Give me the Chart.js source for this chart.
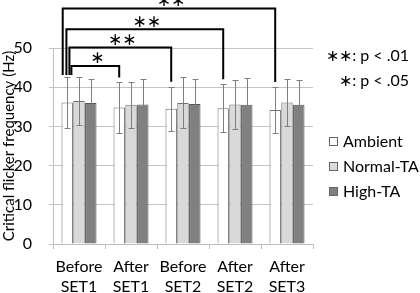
<!DOCTYPE html>
<html>
<head>
<meta charset="utf-8">
<script src="https://cdn.jsdelivr.net/npm/chart.js@4.4.0/dist/chart.umd.min.js"></script>
<style>
  html, body { margin: 0; padding: 0; background: #fff; }
  #wrap { width: 420px; height: 293px; }
</style>
</head>
<body>
<div id="wrap"><canvas id="cff" width="420" height="293"></canvas></div>
<script>
// Daten
var categories = [['Before', 'SET1'], ['After', 'SET1'], ['Before', 'SET2'], ['After', 'SET2'], ['After', 'SET3']];
var seriesNames = ['Ambient', 'Normal-TA', 'High-TA'];
var ambient = [36.1, 34.8, 34.5, 34.6, 34.2];
var normalTA = [36.5, 35.5, 36.0, 35.6, 36.1];
var highTA = [36.0, 35.6, 35.7, 35.5, 35.5];
var ambientSD = [6.5, 6.4, 5.6, 6.1, 5.8];
var normalSD = [6.2, 5.9, 6.5, 6.3, 5.9];
var highSD = [6.2, 6.4, 6.3, 6.9, 6.3];
var yTicks = [0, 10, 20, 30, 40, 50];
// Signifikanz: Vergleich Before SET1 (Ambient) mit Gruppe i
var sigTargets = [1, 2, 3, 4];
var sigMarks = ['∗', '∗∗', '∗∗', '∗∗'];
var sigNotes = ['∗∗: p < .01', '∗: p < .05'];

var FONT = 'Lato';
var sdList = [ambientSD, normalSD, highSD];

// Fehlerbalken, Klammern und Legende zeichnen
var extras = {
  id: 'extras',
  afterDatasetsDraw: function (chart) {
    var c = chart.ctx;
    var y = chart.scales.y;
    c.save();
    // Fehlerbalken
    c.strokeStyle = '#7f7f7f';
    c.lineWidth = 1;
    chart.data.datasets.forEach(function (ds, di) {
      var meta = chart.getDatasetMeta(di);
      meta.data.forEach(function (bar, i) {
        var v = ds.data[i], e = sdList[di][i];
        var yt = Math.round(y.getPixelForValue(v + e)) + 0.5;
        var yb = Math.round(y.getPixelForValue(v - e)) + 0.5;
        var x = Math.round(bar.x) + 0.5;
        c.beginPath();
        c.moveTo(x, yt); c.lineTo(x, yb);
        c.moveTo(x - 3, yt); c.lineTo(x + 3, yt);
        c.moveTo(x - 3, yb); c.lineTo(x + 3, yb);
        c.stroke();
      });
    });
    c.restore();
  },
  afterDraw: function (chart) {
    var c = chart.ctx;
    var y = chart.scales.y;
    var base = chart.getDatasetMeta(0).data;
    var levels = [45.4, 50.1, 54.8, 60.1];
    var leftOff = [4.2, 2.2, -0.8, -4.5];
    c.save();
    c.strokeStyle = '#000';
    c.lineWidth = 2;
    c.fillStyle = '#000';
    c.textAlign = 'center';
    c.textBaseline = 'middle';
    c.font = '17px "DejaVu Sans"';
    sigTargets.forEach(function (t, k) {
      var x1 = base[0].x + leftOff[k];
      var x2 = base[t].x;
      var yl = y.getPixelForValue(levels[k]);
      var y1 = y.getPixelForValue(43.1);
      var y2 = y.getPixelForValue(ambient[t] + ambientSD[t] + 1.3);
      c.beginPath();
      c.moveTo(x1, y1); c.lineTo(x1, yl); c.lineTo(x2, yl); c.lineTo(x2, y2);
      c.stroke();
      c.fillText(sigMarks[k], (x1 + x2) / 2 + 2, yl - 7);
    });
    // Signifikanz-Hinweis
    c.textAlign = 'right';
    c.font = '16px ' + FONT;
    c.fillText(sigNotes[0], 409, 56);
    c.fillText(sigNotes[1], 409, 81);
    // Legende
    c.textAlign = 'left';
    chart.data.datasets.forEach(function (ds, i) {
      var cy = 142 + i * 25;
      c.fillStyle = ds.backgroundColor;
      c.fillRect(329.5, cy - 4.5, 8, 8);
      c.strokeStyle = '#666';
      c.lineWidth = 1;
      c.strokeRect(329.5, cy - 4.5, 8, 8);
      c.fillStyle = '#000';
      c.fillText(ds.label, 343, cy);
    });
    c.restore();
  }
};

var ctx = document.getElementById('cff');
new Chart(ctx, {
  type: 'bar',
  data: {
    labels: categories,
    datasets: [
      { label: seriesNames[0], data: ambient, backgroundColor: '#ffffff', borderColor: '#6f6f6f', borderWidth: 1 },
      { label: seriesNames[1], data: normalTA, backgroundColor: '#d9d9d9', borderColor: '#6f6f6f', borderWidth: 1 },
      { label: seriesNames[2], data: highTA, backgroundColor: '#808080', borderColor: '#555555', borderWidth: 1 }
    ]
  },
  options: {
    responsive: false,
    animation: false,
    devicePixelRatio: 1,
    layout: { padding: { top: 48, right: 107, left: 0, bottom: 0 } },
    plugins: {
      legend: { display: false },
      tooltip: { enabled: false }
    },
    datasets: { bar: { categoryPercentage: 0.68, barPercentage: 0.97 } },
    scales: {
      x: {
        afterFit: function (axis) {
          axis.height = 49;
          axis.paddingLeft = 0;
          axis.paddingRight = 0;
        },
        grid: { drawOnChartArea: false, color: '#bfbfbf', tickLength: 5, offset: true },
        border: { color: '#bfbfbf' },
        ticks: { color: '#000', font: { family: FONT, size: 16, lineHeight: 1.3 }, padding: 7, maxRotation: 0, autoSkip: false }
      },
      y: {
        min: 0,
        max: 50,
        afterBuildTicks: function (axis) {
          axis.ticks = yTicks.map(function (v) { return { value: v }; });
        },
        afterFit: function (axis) {
          axis.width = 53;
          axis.paddingTop = 0;
          axis.paddingBottom = 0;
        },
        grid: { color: '#c4c4c4', tickLength: 4 },
        border: { color: '#bfbfbf' },
        ticks: { color: '#000', font: { family: FONT, size: 16 }, padding: 17 },
        title: { display: true, text: 'Critical flicker frequency (Hz)', color: '#000', font: { family: FONT, size: 15 }, padding: { top: 0, bottom: 0 } }
      }
    }
  },
  plugins: [extras]
});
</script>
</body>
</html>
